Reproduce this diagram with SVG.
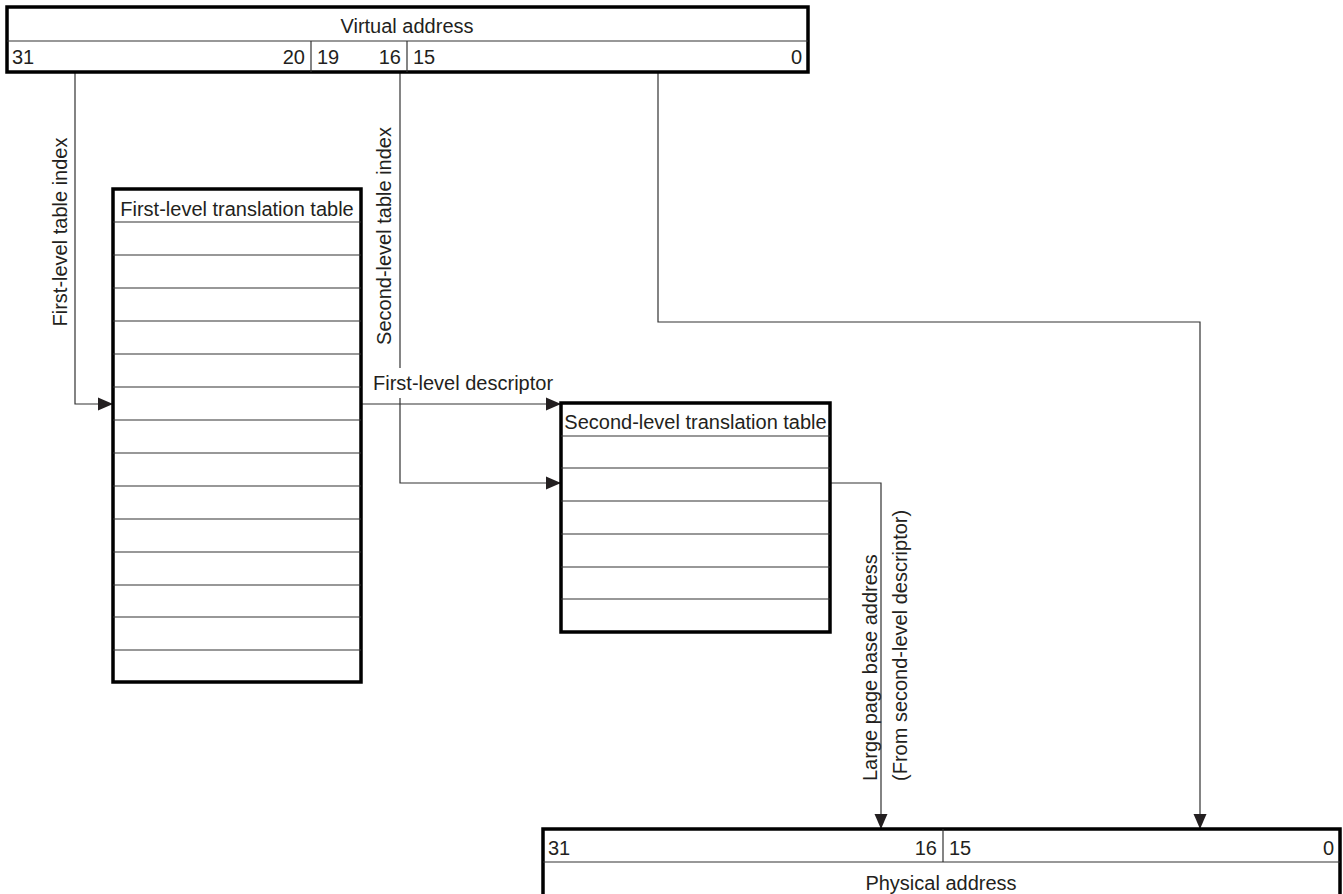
<svg xmlns="http://www.w3.org/2000/svg" width="1343" height="894" viewBox="0 0 1343 894">
<style>
text{font-family:"Liberation Sans",Arial,sans-serif;font-size:20px;fill:#231f20}
.box{fill:#fff;stroke:#000;stroke-width:3.5}
.div{stroke:#333;stroke-width:1.2;fill:none}
.conn{stroke:#333;stroke-width:1.2;fill:none}
.mid{text-anchor:middle}
.end{text-anchor:end}
</style>
<defs>
<marker id="arr" markerUnits="userSpaceOnUse" markerWidth="16" markerHeight="14" refX="15" refY="7" orient="auto">
<path d="M0,0.5 L15,7 L0,13.5 z" fill="#231f20"/>
</marker>
</defs>
<rect width="1343" height="894" fill="#fff"/>
<g id="connectors">
<path class="conn" d="M75,72 V404 H113" marker-end="url(#arr)"/>
<path class="conn" d="M400,72 V368"/>
<path class="conn" d="M400,398 V483 H561" marker-end="url(#arr)"/>
<path class="conn" d="M361,404 H561" marker-end="url(#arr)"/>
<path class="conn" d="M658,72 V322 H1200 V829" marker-end="url(#arr)"/>
<path class="conn" d="M830,483 H881 V829" marker-end="url(#arr)"/>
<text transform="translate(67,232) rotate(-90)" class="mid">First-level table index</text>
<text transform="translate(391,236) rotate(-90)" class="mid">Second-level table index</text>
<text x="373" y="390">First-level descriptor</text>
<text transform="translate(877,781) rotate(-90)">Large page base address</text>
<text transform="translate(907,781) rotate(-90)">(From second-level descriptor)</text>
</g>
<g id="virtual-address">
<rect class="box" x="7" y="7" width="801" height="65"/>
<line class="div" x1="7" y1="41" x2="808" y2="41"/>
<line class="div" x1="311" y1="41" x2="311" y2="72"/>
<line class="div" x1="407" y1="41" x2="407" y2="72"/>
<text x="407" y="33" class="mid">Virtual address</text>
<text x="12" y="64">31</text>
<text x="305" y="64" class="end">20</text>
<text x="317" y="64">19</text>
<text x="401" y="64" class="end">16</text>
<text x="413" y="64">15</text>
<text x="802" y="64" class="end">0</text>
</g>
<g id="first-level-table">
<rect class="box" x="113" y="189" width="248" height="493"/>
<path class="div" d="M113,222H361 M113,255H361 M113,288H361 M113,321H361 M113,354H361 M113,387H361 M113,420H361 M113,453H361 M113,486H361 M113,519H361 M113,552H361 M113,585H361 M113,617H361 M113,650H361"/>
<text x="237" y="216" class="mid">First-level translation table</text>
</g>
<g id="second-level-table">
<rect class="box" x="561" y="403" width="269" height="229"/>
<path class="div" d="M561,436H830 M561,468H830 M561,501H830 M561,534H830 M561,567H830 M561,599H830"/>
<text x="695.5" y="429" class="mid">Second-level translation table</text>
</g>
<g id="physical-address">
<rect class="box" x="543" y="829" width="797" height="70"/>
<line class="div" x1="543" y1="862" x2="1340" y2="862"/>
<line class="div" x1="943" y1="829" x2="943" y2="862"/>
<text x="548" y="855">31</text>
<text x="937" y="855" class="end">16</text>
<text x="949" y="855">15</text>
<text x="1334" y="855" class="end">0</text>
<text x="941" y="890" class="mid">Physical address</text>
</g>
</svg>
